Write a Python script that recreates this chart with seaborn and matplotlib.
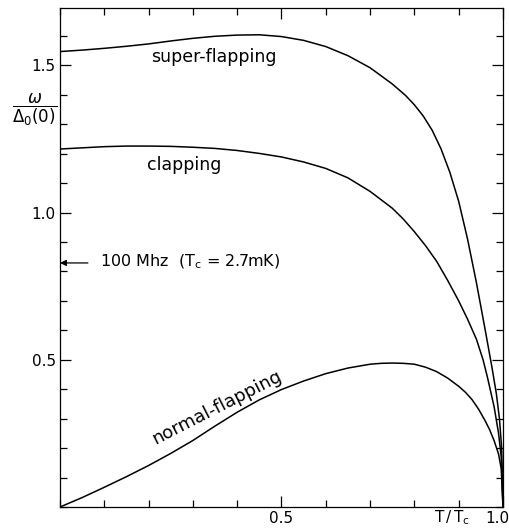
import matplotlib
matplotlib.use("Agg")
import matplotlib.pyplot as plt
import pandas as pd
import seaborn as sns
from matplotlib.ticker import MultipleLocator
from matplotlib.transforms import ScaledTranslation

# curve data (T/Tc, omega/Delta0(0))
t_super = [0.00, 0.05, 0.10, 0.15, 0.20, 0.25, 0.30, 0.35, 0.40, 0.45, 0.50,
           0.55, 0.60, 0.65, 0.70, 0.75, 0.78, 0.80, 0.82, 0.84, 0.86, 0.88,
           0.90, 0.92, 0.94, 0.96, 0.975, 0.985, 0.992, 0.997, 1.0]
w_super = [1.547, 1.552, 1.558, 1.565, 1.573, 1.583, 1.592, 1.599, 1.603,
           1.604, 1.598, 1.585, 1.564, 1.533, 1.492, 1.437, 1.398, 1.366,
           1.328, 1.280, 1.217, 1.137, 1.038, 0.910, 0.762, 0.600, 0.475,
           0.385, 0.300, 0.200, 0.0]

t_clap = [0.00, 0.05, 0.10, 0.15, 0.20, 0.25, 0.30, 0.35, 0.40, 0.45, 0.50,
          0.55, 0.60, 0.65, 0.70, 0.75, 0.775, 0.80, 0.825, 0.85, 0.875,
          0.90, 0.92, 0.94, 0.955, 0.965, 0.98, 0.99, 0.996, 1.0]
w_clap = [1.216, 1.220, 1.224, 1.226, 1.226, 1.225, 1.222, 1.218, 1.211,
          1.201, 1.189, 1.172, 1.150, 1.118, 1.072, 1.015, 0.978, 0.935,
          0.888, 0.835, 0.770, 0.700, 0.638, 0.570, 0.500, 0.440, 0.340,
          0.250, 0.170, 0.0]

t_normal = [0.00, 0.05, 0.10, 0.15, 0.20, 0.25, 0.30, 0.35, 0.40, 0.45, 0.50,
            0.55, 0.60, 0.65, 0.70, 0.725, 0.75, 0.775, 0.80, 0.825, 0.85,
            0.875, 0.90, 0.915, 0.93, 0.945, 0.96, 0.97, 0.98, 0.99, 0.996,
            1.0]
w_normal = [0.000, 0.032, 0.067, 0.103, 0.141, 0.182, 0.226, 0.275, 0.322,
            0.364, 0.399, 0.428, 0.453, 0.472, 0.485, 0.488, 0.489, 0.488,
            0.485, 0.475, 0.460, 0.438, 0.410, 0.390, 0.365, 0.332, 0.292,
            0.262, 0.225, 0.180, 0.130, 0.0]

curve_names = ["super-flapping", "clapping", "normal-flapping"]

x_tick_values = [0.5, 1.0]
x_tick_labels = ["0.5", "1.0"]
y_tick_values = [0.5, 1.0, 1.5]
y_tick_labels = ["0.5", "1.0", "1.5"]

marker_freq = 0.829  # 100 MHz at Tc = 2.7 mK

df = pd.concat([
    pd.DataFrame({"T": t_super, "w": w_super, "mode": curve_names[0]}),
    pd.DataFrame({"T": t_clap, "w": w_clap, "mode": curve_names[1]}),
    pd.DataFrame({"T": t_normal, "w": w_normal, "mode": curve_names[2]}),
])

sns.set_style("ticks", {"text.color": "black", "xtick.color": "black",
                        "ytick.color": "black", "axes.edgecolor": "black"})
plt.rcParams["font.family"] = ["DejaVu Sans"]

fig = plt.figure(figsize=(5.10, 5.29), dpi=100)
ax = fig.add_axes([60 / 510, 22 / 529, 443 / 510, 499 / 529])

sns.lineplot(data=df, x="T", y="w", units="mode", estimator=None, sort=False,
             color="black", linewidth=1.1, ax=ax)

ax.set_xlim(0, 1.0)
ax.set_ylim(0, 1.695)
ax.set_xlabel("")
ax.set_ylabel("")

ax.set_xticks(x_tick_values)
ax.set_xticklabels(x_tick_labels, fontsize=11)
ax.set_yticks(y_tick_values)
ax.set_yticklabels(y_tick_labels, fontsize=11)
ax.xaxis.set_minor_locator(MultipleLocator(0.1))
ax.yaxis.set_minor_locator(MultipleLocator(0.1))
ax.tick_params(which="both", direction="in", top=True, right=True,
               color="black", labelcolor="black", width=0.9)
ax.tick_params(which="major", length=8, pad=3)
ax.tick_params(which="minor", length=5)
for side in ["left", "right", "top", "bottom"]:
    ax.spines[side].set_color("black")
    ax.spines[side].set_linewidth(0.9)

# keep the "1.0" label inside the canvas like the original
last = ax.get_xticklabels()[-1]
last.set_transform(last.get_transform()
                   + ScaledTranslation(-4 / 72, 0, fig.dpi_scale_trans))

ax.text(0.885, -0.031, r"$\mathrm{T\,/\,T_c}$", fontsize=11, ha="center",
        va="baseline", color="black", transform=ax.get_xaxis_transform())

ax.text(-0.057, 1.35, r"$\dfrac{\omega}{\Delta_0(0)}$", fontsize=12,
        ha="center", va="center", color="black",
        transform=ax.get_yaxis_transform())

ax.text(0.347, 1.530, "super-flapping", fontsize=12.5, ha="center",
        va="center", color="black")
ax.text(0.281, 1.162, "clapping", fontsize=12.5, ha="center", va="center",
        color="black")
ax.text(0.355, 0.339, "normal-flapping", fontsize=13, ha="center",
        va="center", rotation=27, color="black")

ax.annotate("", xy=(0.0, marker_freq), xytext=(0.063, marker_freq),
            arrowprops=dict(arrowstyle="-|>", color="black", lw=0.9,
                            mutation_scale=9, shrinkA=0, shrinkB=0))
ax.text(0.09, marker_freq + 0.004, r"100 Mhz  ($\mathrm{T_c}$ = 2.7mK)",
        fontsize=11.5, ha="left", va="center", color="black")

fig.savefig("out.png", dpi=100)
